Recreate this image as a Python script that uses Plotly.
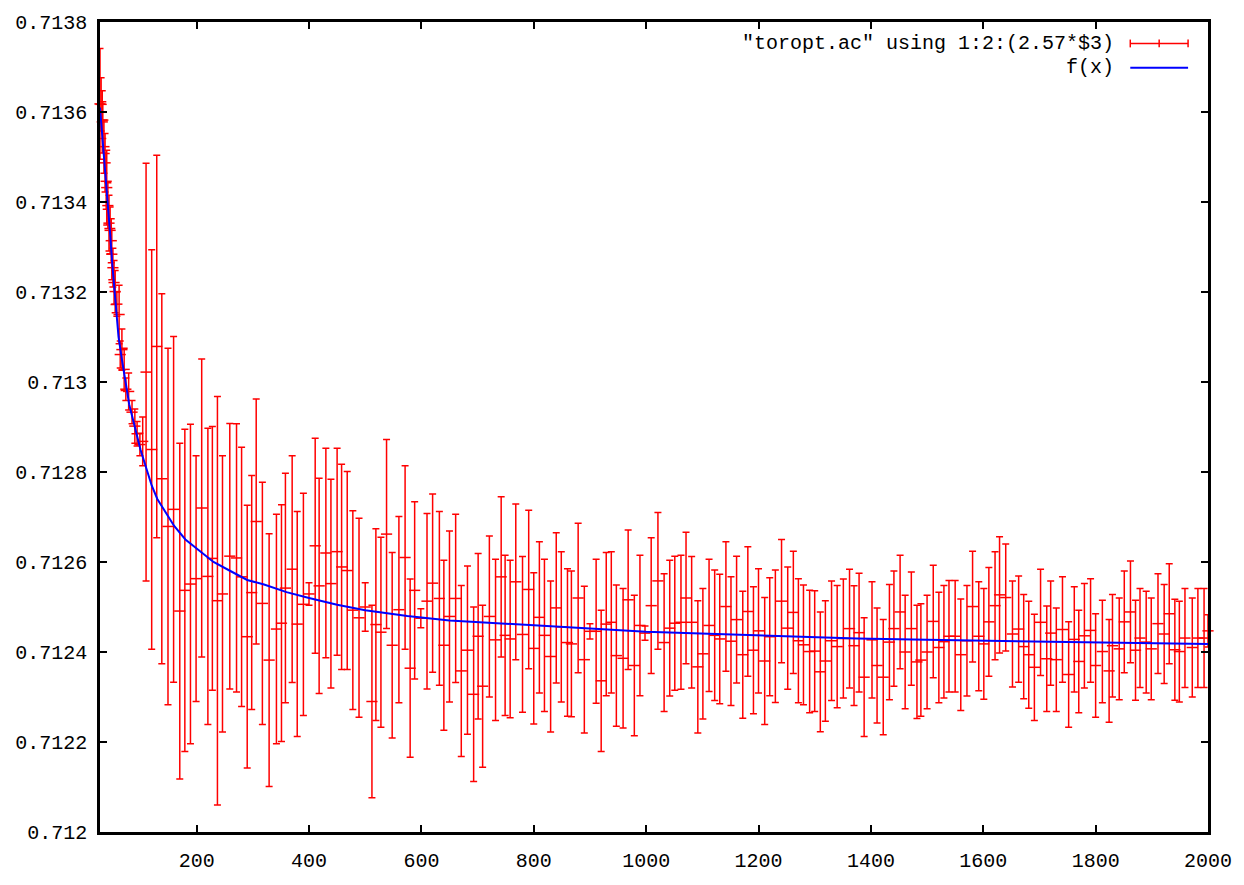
import plotly.graph_objects as go

# ---- data series "toropt.ac" (x, value, error) ----
x_data = [28, 30, 32, 33, 35, 37, 39, 40, 42, 44, 46, 48, 49, 51, 53, 55, 58, 62, 64, 67,
          71, 74, 79, 85, 90, 94, 99, 104,
          110, 120, 129, 138, 149, 159, 170, 179, 189, 199,
          209, 220, 228, 237, 246, 259, 271, 280, 290, 298,
          306, 317, 329, 342, 351, 358, 370, 379, 390, 400,
          411, 418, 430, 439, 450, 458, 468, 478, 489, 500,
          512, 519, 528, 538, 548, 560, 571, 580, 588, 599,
          610, 620, 632, 640, 650, 661, 671, 682, 693, 701,
          709, 721, 732, 742, 749, 758, 768, 780, 791, 800,
          810, 819, 830, 840, 849, 860, 867, 879, 890, 900,
          911, 920, 929, 938, 947, 959, 968, 979, 989, 998,
          1009, 1021, 1032, 1042, 1051, 1062, 1071, 1081, 1092, 1101,
          1112, 1122, 1131, 1142, 1151, 1161, 1172, 1181, 1191, 1200,
          1211, 1220, 1230, 1241, 1252, 1262, 1271, 1280, 1291, 1300,
          1310, 1319, 1330, 1340, 1351, 1362, 1370, 1379, 1388, 1402,
          1411, 1422, 1433, 1441, 1452, 1461, 1472, 1482, 1489, 1500,
          1511, 1521, 1530, 1539, 1550, 1560, 1571, 1581, 1592, 1601,
          1610, 1621, 1629, 1640, 1652, 1663, 1672, 1681, 1691, 1702,
          1713, 1720, 1730, 1741, 1752, 1762, 1770, 1780, 1791, 1800,
          1812, 1824, 1830, 1842, 1851, 1862, 1871, 1879, 1890, 1899,
          1911, 1922, 1931, 1941, 1949, 1959, 1972, 1982, 1993, 2000]

y_data = [0.713618, 0.713617, 0.713578, 0.713582, 0.713523, 0.713487, 0.713446, 0.713432, 0.713392, 0.713353,
          0.713337, 0.713314, 0.713284, 0.713254, 0.713221, 0.713201, 0.713173, 0.713150, 0.713061, 0.713072,
          0.713028, 0.712984, 0.712979, 0.712933, 0.712902, 0.712885, 0.712861, 0.712868,
          0.713022, 0.712850, 0.713079, 0.712785, 0.712679, 0.712717, 0.712491, 0.712537, 0.712551, 0.712563,
          0.712720, 0.712568, 0.712608, 0.712514, 0.712529, 0.712613, 0.712609, 0.712567, 0.712434, 0.712532,
          0.712690, 0.712508, 0.712382, 0.712451, 0.712464, 0.712542, 0.712584, 0.712462, 0.712506, 0.712529,
          0.712636, 0.712547, 0.712620, 0.712552, 0.712623, 0.712589, 0.712581, 0.712493, 0.712476, 0.712500,
          0.712290, 0.712461, 0.712444, 0.712662, 0.712415, 0.712494, 0.712610, 0.712364, 0.712537, 0.712475,
          0.712513, 0.712553, 0.712519, 0.712415, 0.712479, 0.712519, 0.712358, 0.712404, 0.712306, 0.712435,
          0.712324, 0.712479, 0.712427, 0.712567, 0.712437, 0.712429, 0.712556, 0.712439, 0.712539, 0.712408,
          0.712477, 0.712437, 0.712390, 0.712498, 0.712456, 0.712421, 0.712418, 0.712520, 0.712383, 0.712446,
          0.712446, 0.712336, 0.712462, 0.712466, 0.712392, 0.712386, 0.712516, 0.712370, 0.712459, 0.712442,
          0.712503, 0.712558, 0.712421, 0.712453, 0.712464, 0.712466, 0.712520, 0.712466, 0.712367, 0.712396,
          0.712459, 0.712437, 0.712429, 0.712501, 0.712424, 0.712472, 0.712394, 0.712490, 0.712404, 0.712447,
          0.712380, 0.712434, 0.712435, 0.712513, 0.712453, 0.712488, 0.712425, 0.712416, 0.712401, 0.712402,
          0.712356, 0.712380, 0.712425, 0.712412, 0.712430, 0.712452, 0.712414, 0.712443, 0.712344, 0.712427,
          0.712370, 0.712344, 0.712422, 0.712452, 0.712489, 0.712400, 0.712452, 0.712378, 0.712382, 0.712400,
          0.712468, 0.712410, 0.712423, 0.712435, 0.712435, 0.712394, 0.712425, 0.712501, 0.712435, 0.712418,
          0.712467, 0.712503, 0.712527, 0.712521, 0.712440, 0.712451, 0.712412, 0.712394, 0.712366, 0.712466,
          0.712385, 0.712442, 0.712383, 0.712450, 0.712350, 0.712428, 0.712379, 0.712436, 0.712448, 0.712370,
          0.712401, 0.712358, 0.712414, 0.712407, 0.712467, 0.712489, 0.712404, 0.712431, 0.712422, 0.712407,
          0.712463, 0.712440, 0.712485, 0.712405, 0.712401, 0.712431, 0.712410, 0.712431, 0.712431, 0.712447]

err_data = [0.000123, 0.000059, 0.000069, 0.000041, 0.000059, 0.000065, 0.000062, 0.000083, 0.000051, 0.000062,
            0.000052, 0.000049, 0.000057, 0.000043, 0.000049, 0.000047, 0.000027, 0.000065, 0.000030, 0.000046,
            0.000047, 0.000025, 0.000041, 0.000026, 0.000038, 0.000027, 0.000025, 0.000054,
            0.000464, 0.000444, 0.000425, 0.000411, 0.000396, 0.000384, 0.000373, 0.000358, 0.000355, 0.000273,
            0.000331, 0.000329, 0.000293, 0.000454, 0.000307, 0.000295, 0.000298, 0.000288, 0.000292, 0.000260,
            0.000272, 0.000269, 0.000281, 0.000255, 0.000263, 0.000255, 0.000252, 0.000250, 0.000247, 0.000025,
            0.000239, 0.000239, 0.000233, 0.000232, 0.000230, 0.000228, 0.000220, 0.000221, 0.000221, 0.000054,
            0.000214, 0.000213, 0.000211, 0.000210, 0.000206, 0.000207, 0.000204, 0.000198, 0.000197, 0.000021,
            0.000195, 0.000198, 0.000193, 0.000189, 0.000190, 0.000187, 0.000190, 0.000187, 0.000194, 0.000184,
            0.000180, 0.000179, 0.000179, 0.000178, 0.000178, 0.000175, 0.000173, 0.000173, 0.000176, 0.000168,
            0.000168, 0.000169, 0.000168, 0.000167, 0.000167, 0.000164, 0.000162, 0.000166, 0.000163, 0.000017,
            0.000160, 0.000157, 0.000159, 0.000157, 0.000157, 0.000155, 0.000155, 0.000156, 0.000156, 0.000016,
            0.000151, 0.000152, 0.000153, 0.000151, 0.000149, 0.000149, 0.000146, 0.000146, 0.000147, 0.000145,
            0.000147, 0.000145, 0.000144, 0.000144, 0.000143, 0.000141, 0.000141, 0.000144, 0.000141, 0.000138,
            0.000141, 0.000131, 0.000147, 0.000137, 0.000136, 0.000136, 0.000138, 0.000133, 0.000136, 0.000134,
            0.000133, 0.000134, 0.000133, 0.000136, 0.000132, 0.000132, 0.000133, 0.000132, 0.000132, 0.000129,
            0.000128, 0.000128, 0.000128, 0.000128, 0.000126, 0.000126, 0.000126, 0.000126, 0.000125, 0.000126,
            0.000125, 0.000123, 0.000125, 0.000124, 0.000124, 0.000124, 0.000123, 0.000123, 0.000121, 0.000123,
            0.000121, 0.000120, 0.000129, 0.000119, 0.000118, 0.000118, 0.000116, 0.000119, 0.000118, 0.000118,
            0.000117, 0.000116, 0.000115, 0.000117, 0.000117, 0.000117, 0.000114, 0.000116, 0.000115, 0.000115,
            0.000114, 0.000114, 0.000114, 0.000113, 0.000113, 0.000113, 0.000111, 0.000110, 0.000113, 0.000113,
            0.000111, 0.000110, 0.000111, 0.000112, 0.000112, 0.000110, 0.000110, 0.000110, 0.000110, 0.000036]

# ---- fitted curve f(x) ----
f_x = [28, 30, 32, 35, 37, 40, 42, 46, 50, 55, 61, 67, 73, 80, 88, 100, 110, 120, 130, 145,
       160, 180, 200, 230, 260, 290, 320, 360, 400, 450, 500, 575, 650, 725, 800, 900,
       1000, 1125, 1250, 1375, 1500, 1625, 1750, 1875, 2000]
f_y = [0.713610, 0.713580, 0.713560, 0.713510, 0.713470, 0.713420, 0.713390, 0.713330, 0.713260, 0.713180,
       0.713100, 0.713050, 0.713000, 0.712950, 0.712910, 0.712850, 0.712810, 0.712770, 0.712740, 0.712710,
       0.712680, 0.712650, 0.712630, 0.712600, 0.712580, 0.712560, 0.712550, 0.712533, 0.712520, 0.712505,
       0.712493, 0.712480, 0.712470, 0.712465, 0.712460, 0.712452,
       0.712445, 0.712440, 0.712435, 0.712430, 0.712427, 0.712424, 0.712422, 0.712420, 0.712418]

# ---- axis ticks ----
x_ticks = [200, 400, 600, 800, 1000, 1200, 1400, 1600, 1800, 2000]
x_labels = ["200", "400", "600", "800", "1000", "1200", "1400", "1600", "1800", "2000"]
y_ticks = [0.712, 0.7122, 0.7124, 0.7126, 0.7128, 0.713, 0.7132, 0.7134, 0.7136, 0.7138]
y_labels = ["0.712", "0.7122", "0.7124", "0.7126", "0.7128", "0.713", "0.7132", "0.7134", "0.7136", "0.7138"]

series_name = '"toropt.ac" using 1:2:(2.57*$3)'
fit_name = "f(x)"

RED = "rgb(255,0,0)"
BLUE = "rgb(0,0,255)"
FONT = "Liberation Mono"

fig = go.Figure()
fig.add_trace(go.Scatter(
    x=x_data, y=y_data, mode="markers", name=series_name,
    marker=dict(symbol="line-ew", size=8, color=RED, line=dict(color=RED, width=1.5)),
    error_y=dict(type="data", array=err_data, visible=True, color=RED, thickness=1.5, width=3.5),
    cliponaxis=False, showlegend=False,
))
fig.add_trace(go.Scatter(
    x=f_x, y=f_y, mode="lines", name=fit_name,
    line=dict(color=BLUE, width=2),
    showlegend=False,
))

axis_common = dict(
    showline=True, linewidth=2.5, linecolor="black", mirror="allticks",
    ticks="inside", ticklen=7, tickwidth=2, tickcolor="black",
    showgrid=False, zeroline=False,
    tickfont=dict(family=FONT, size=20, color="black"),
)
fig.update_xaxes(range=[28, 2000], tickmode="array", tickvals=x_ticks, ticktext=x_labels,
                 ticklabelstandoff=8, **axis_common)
fig.update_yaxes(range=[0.712, 0.7138], tickmode="array", tickvals=y_ticks, ticktext=y_labels,
                 ticklabelstandoff=6, **axis_common)

# gnuplot-style key: text on the left, sample on the right
L, R, T, B = 100, 1212, 16, 846
def px(xp):
    return (xp - L) / (R - L)
def py(yp):
    return (B - yp) / (B - T)

key_text_x = px(1120)
row1, row2 = py(38), py(63)
fig.add_annotation(x=key_text_x, y=row1, xref="paper", yref="paper", text=series_name,
                   showarrow=False, xanchor="right", yanchor="middle",
                   font=dict(family=FONT, size=20, color="black"))
fig.add_annotation(x=key_text_x, y=row2, xref="paper", yref="paper", text=fit_name,
                   showarrow=False, xanchor="right", yanchor="middle",
                   font=dict(family=FONT, size=20, color="black"))
s0, s1, sm = px(1134), px(1192), px(1163)
cap = 4 / (B - T)
shapes = [
    dict(type="line", xref="paper", yref="paper", x0=s0, x1=s1, y0=row1, y1=row1, line=dict(color=RED, width=1.5)),
    dict(type="line", xref="paper", yref="paper", x0=s0, x1=s0, y0=row1 - cap, y1=row1 + cap, line=dict(color=RED, width=1.5)),
    dict(type="line", xref="paper", yref="paper", x0=s1, x1=s1, y0=row1 - cap, y1=row1 + cap, line=dict(color=RED, width=1.5)),
    dict(type="line", xref="paper", yref="paper", x0=sm, x1=sm, y0=row1 - cap, y1=row1 + cap, line=dict(color=RED, width=1.5)),
    dict(type="line", xref="paper", yref="paper", x0=s0, x1=s1, y0=row2, y1=row2, line=dict(color=BLUE, width=2)),
]
fig.update_layout(
    width=1244, height=885,
    margin=dict(l=L, r=1244 - R, t=T, b=885 - B),
    paper_bgcolor="white", plot_bgcolor="white",
    shapes=shapes, showlegend=False,
)

fig.write_html("out.html")
